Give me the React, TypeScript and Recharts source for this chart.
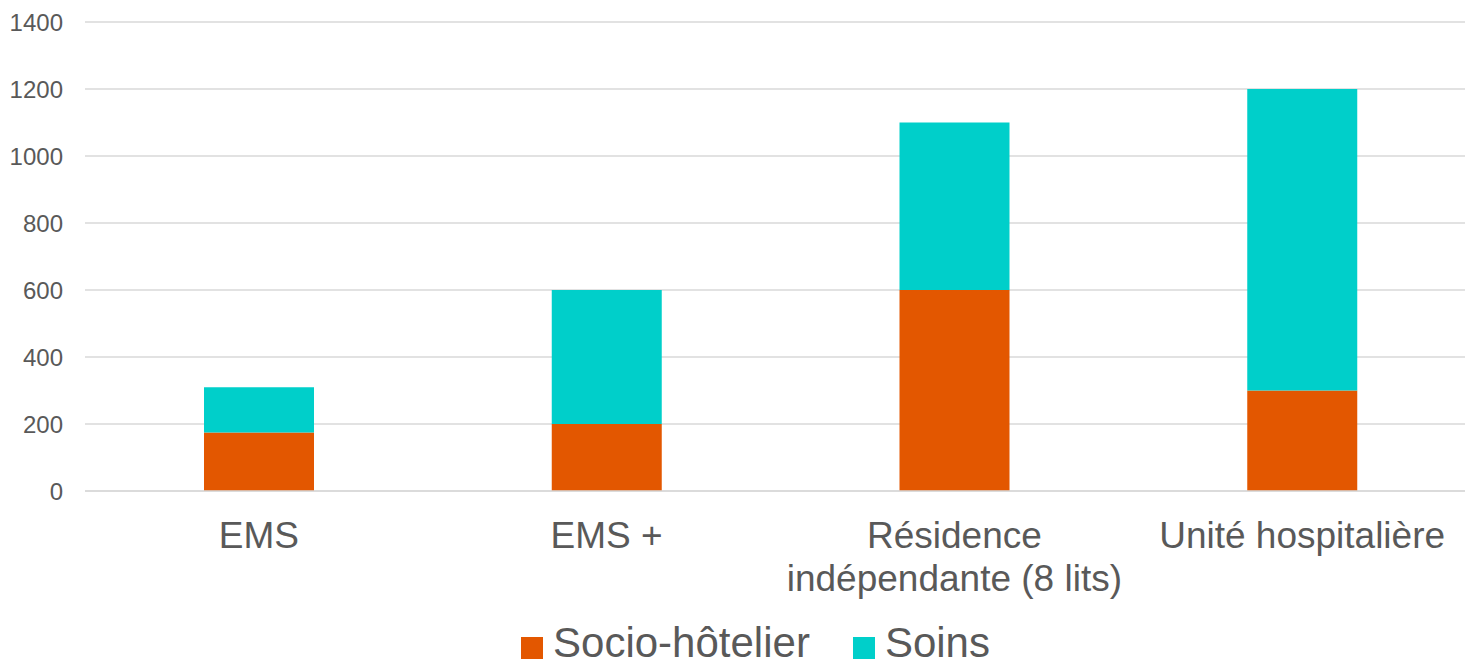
import React from "react";
import { BarChart, Bar, XAxis, YAxis, CartesianGrid, Legend } from "recharts";

if (typeof document !== "undefined") {
  document.body.style.margin = "0";
}

const categories = ["EMS", "EMS +", "Résidence indépendante (8 lits)", "Unité hospitalière"];
const socioHotelier = [175, 200, 600, 300];
const soins = [135, 400, 500, 900];
const yTicks = [0, 200, 400, 600, 800, 1000, 1200, 1400];
const seriesNames = ["Socio-hôtelier", "Soins"];
const colors = ["#E35700", "#00CFCA"];

const data = categories.map((c, i) => ({ name: c, socio: socioHotelier[i], soins: soins[i] }));

const FONT = '"Liberation Sans", Arial, sans-serif';
const TEXT_COLOR = "#595959";
const CAT_FONT_SIZE = 37;

let ctx: CanvasRenderingContext2D | null = null;
const measure = (s: string) => {
  if (!ctx) ctx = document.createElement("canvas").getContext("2d");
  if (!ctx) return s.length * CAT_FONT_SIZE * 0.55;
  ctx.font = `${CAT_FONT_SIZE}px ${FONT}`;
  return ctx.measureText(s).width;
};

const wrap = (s: string, maxW: number) => {
  const words = s.split(" ");
  const lines: string[] = [];
  let cur = "";
  words.forEach((w) => {
    const test = cur ? cur + " " + w : w;
    if (cur && measure(test) > maxW) {
      lines.push(cur);
      cur = w;
    } else {
      cur = test;
    }
  });
  if (cur) lines.push(cur);
  return lines;
};

const CategoryTick = (props: any) => {
  const { x, y, payload } = props;
  const lines = wrap(String(payload.value), 345);
  return (
    <text x={x} y={y} textAnchor="middle" fontSize={CAT_FONT_SIZE} fontFamily={FONT} fill={TEXT_COLOR}>
      {lines.map((l, i) => (
        <tspan key={i} x={x} y={y + 49 + i * 43}>
          {l}
        </tspan>
      ))}
    </text>
  );
};

const LegendContent = () => (
  <div
    style={{
      display: "flex",
      justifyContent: "center",
      alignItems: "center",
      paddingLeft: 35,
      fontFamily: FONT,
      fontSize: 42,
      color: TEXT_COLOR,
      height: 42,
      lineHeight: "42px",
    }}
  >
    {seriesNames.map((n, i) => (
      <div key={n} style={{ display: "flex", alignItems: "center", marginRight: i === 0 ? 43 : 0 }}>
        <span style={{ width: 22, height: 22, background: colors[i], marginRight: 10, marginTop: 10, display: "inline-block" }} />
        <span>{n}</span>
      </div>
    ))}
  </div>
);

export default function App() {
  return (
    <BarChart
      width={1465}
      height={664}
      data={data}
      margin={{ top: 22, right: -11, left: 0, bottom: 0 }}
      barSize={110}
    >
      <CartesianGrid vertical={false} stroke="#D9D9D9" strokeWidth={1.5} />
      <YAxis
        width={85}
        domain={[0, 1400]}
        ticks={yTicks}
        axisLine={false}
        tickLine={false}
        tickSize={0}
        tickMargin={22}
        tick={{ fill: TEXT_COLOR, fontSize: 24, fontFamily: FONT }}
      />
      <XAxis
        dataKey="name"
        height={131}
        axisLine={{ stroke: "#D9D9D9", strokeWidth: 1.5 }}
        tickLine={false}
        tick={<CategoryTick />}
        interval={0}
      />
      <Legend verticalAlign="bottom" content={<LegendContent />} />
      <Bar dataKey="socio" name={seriesNames[0]} stackId="a" fill={colors[0]} isAnimationActive={false} />
      <Bar dataKey="soins" name={seriesNames[1]} stackId="a" fill={colors[1]} isAnimationActive={false} />
    </BarChart>
  );
}
